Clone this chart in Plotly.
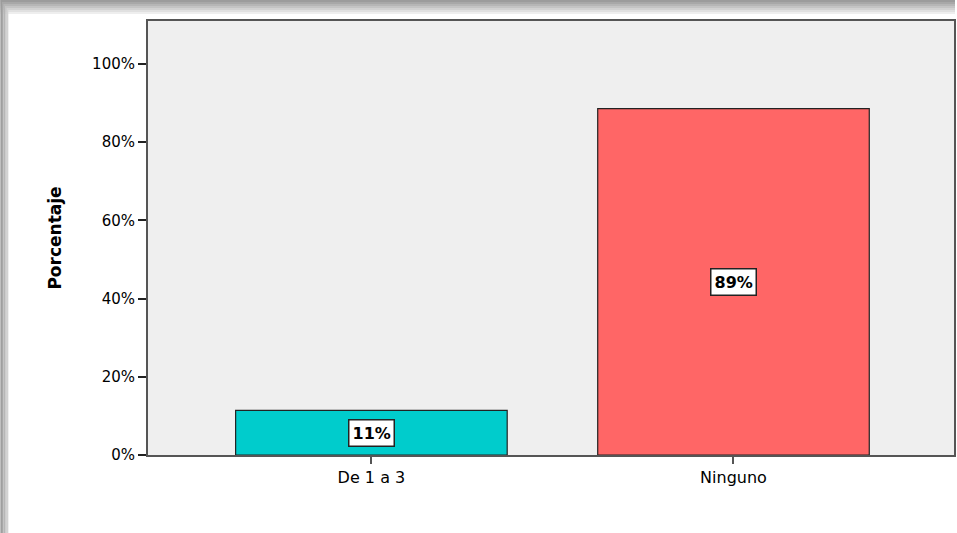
import plotly.graph_objects as go

categorias = ["De 1 a 3", "Ninguno"]
porcentajes = [11.4, 88.6]
etiquetas = ["11%", "89%"]
colores = ["#00CCCC", "#FF6666"]
ticks_y = [0, 20, 40, 60, 80, 100]
ticks_y_text = ["0%", "20%", "40%", "60%", "80%", "100%"]

W, H = 957, 533
L, R, T, B = 148, 1, 21, 78
pw, ph = W - L - R, H - T - B


def px_x(x):
    return (x - L) / pw


def px_y(y):
    return 1 - (y - T) / ph


fig = go.Figure()
fig.add_trace(go.Bar(
    x=categorias, y=porcentajes, width=0.75,
    marker=dict(color=colores, line=dict(color="#222222", width=1.2)),
    hoverinfo="skip", showlegend=False,
))

# etiquetas en cajas blancas al centro de cada barra
for c, v, t in zip(categorias, porcentajes, etiquetas):
    fig.add_annotation(
        x=c, y=v / 2, text="<b>" + t + "</b>", showarrow=False,
        font=dict(family="DejaVu Sans", size=16, color="black"),
        bgcolor="white", bordercolor="#222222", borderwidth=1.5, borderpad=3,
    )

# sombra del marco (arriba e izquierda)
shapes = []
grays = ["#9c9c9c", "#a8a8a8", "#b6b6b6", "#c4c4c4", "#d2d2d2", "#e0e0e0", "#eeeeee"]
for i, g in enumerate(grays):
    shapes.append(dict(type="rect", xref="paper", yref="paper", layer="below",
                       x0=px_x(0), x1=px_x(W), y0=px_y(i * 2), y1=px_y(i * 2 + 2),
                       fillcolor=g, line=dict(width=0)))
for i, g in enumerate(grays[:5]):
    shapes.append(dict(type="rect", xref="paper", yref="paper", layer="below",
                       x0=px_x(i * 1.6), x1=px_x(i * 1.6 + 1.6), y0=px_y(i * 2), y1=px_y(H),
                       fillcolor=g, line=dict(width=0)))

fig.update_layout(
    width=W, height=H,
    margin=dict(l=L, r=R, t=T, b=B),
    paper_bgcolor="white", plot_bgcolor="#EFEFEF",
    shapes=shapes,
    font=dict(family="DejaVu Sans", size=15, color="black"),
)
fig.update_xaxes(
    range=[-0.617, 1.609], showgrid=False,
    showline=True, linecolor="#555555", linewidth=2, mirror=True,
    ticks="outside", ticklen=7, tickwidth=2, tickcolor="#555555",
    tickfont=dict(size=16),
)
fig.update_yaxes(
    range=[0, 111], showgrid=False, zeroline=False,
    tickvals=ticks_y, ticktext=ticks_y_text,
    showline=True, linecolor="#555555", linewidth=2, mirror=True,
    ticks="outside", ticklen=8, tickwidth=1.5, tickcolor="#222222",
    tickfont=dict(size=15),
    title=dict(text="<b>Porcentaje</b>", font=dict(size=17), standoff=26),
)

fig.write_html("out.html", config={"displayModeBar": False},
               post_script="document.body.style.margin='0';")
